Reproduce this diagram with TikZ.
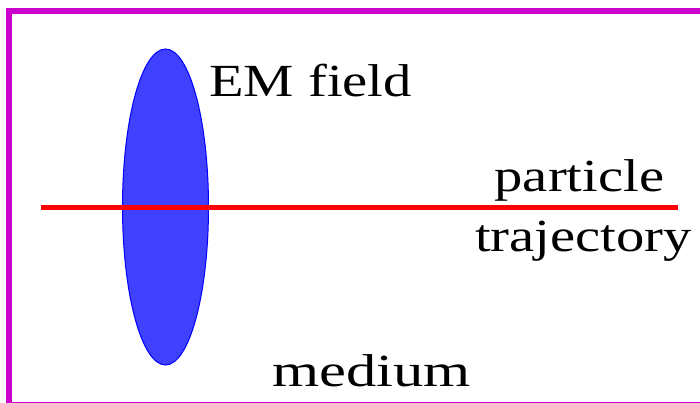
\documentclass[tikz,border=0pt]{standalone}
\usepackage{fontspec}
\setmainfont{Liberation Serif}
\usepackage{tikz}

\definecolor{framemag}{HTML}{CC00CC}
\definecolor{fieldblue}{HTML}{4040FF}

\tikzset{
  label/.style={inner sep=0pt, font=\fontsize{46}{50}\selectfont, xscale=1.23, transform shape},
}

\begin{document}
\begin{tikzpicture}[x=1pt, y=-1pt]
  \useasboundingbox (0,0) rectangle (700,403);
  \clip (0,0) rectangle (700,403);
  % medium
  \draw[framemag, line width=6pt] (9,11) rectangle (706,405);
  % field disc and trajectory
  \draw[blue, fill=fieldblue, line width=1pt] (165.5,207) ellipse [x radius=43, y radius=158];
  \coordinate (start) at (41,207.5);
  \coordinate (end) at (678,207.5);
  \draw[red, line width=5pt] (start) -- (end);
  \node[label, anchor=base west] (field) at (209,96.5) {EM field};
  \node[label, anchor=base] (part) at (579.5,192) {particle};
  \node[label, anchor=base] (traj) at (583.5,251.5) {trajectory};
  \node[label, anchor=base, xscale=1.07] (med) at (371.5,386) {medium};
\end{tikzpicture}
\end{document}
